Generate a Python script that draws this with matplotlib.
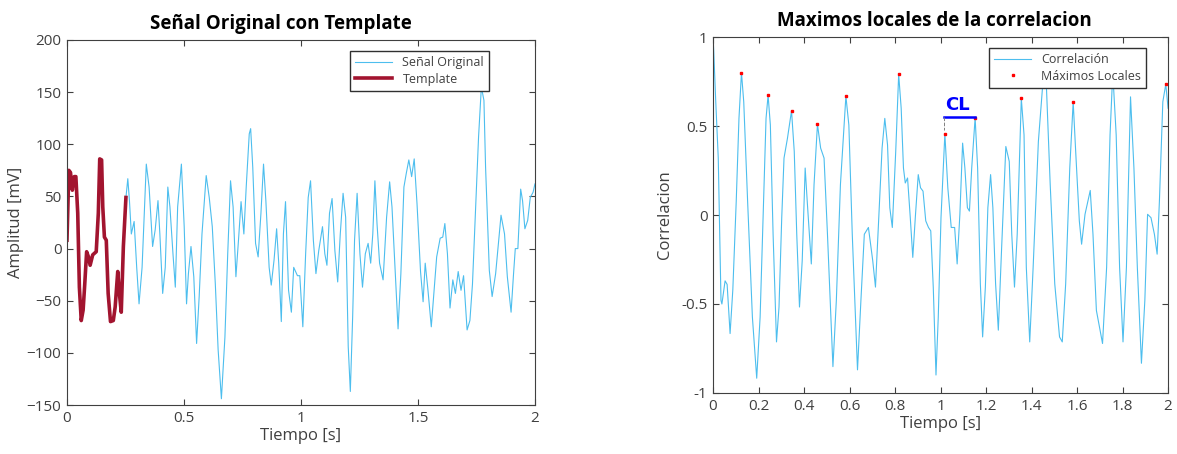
import matplotlib.pyplot as plt

plt.rcParams['font.family'] = ['Open Sans', 'Noto Sans', 'DejaVu Sans']

# Original signal (time in s, amplitude in mV); the template is its first segment
signal_t = [0.000, 0.008, 0.015, 0.023, 0.031, 0.038, 0.046, 0.053, 0.061, 0.069,
            0.076, 0.084, 0.092, 0.099, 0.110, 0.125, 0.134, 0.140, 0.148, 0.153,
            0.160, 0.168, 0.176, 0.186, 0.198, 0.206, 0.217, 0.224, 0.232, 0.241,
            0.252,
            0.260, 0.267, 0.275, 0.287, 0.298, 0.308, 0.321, 0.339, 0.351, 0.366,
            0.377, 0.389, 0.397, 0.409, 0.420, 0.431, 0.440, 0.453, 0.463, 0.473,
            0.489, 0.501, 0.511, 0.519, 0.530, 0.542, 0.554, 0.565, 0.577, 0.595,
            0.608, 0.621, 0.634, 0.646, 0.660, 0.675, 0.687, 0.699, 0.710, 0.722,
            0.733, 0.744, 0.756, 0.766, 0.779, 0.785, 0.794, 0.806, 0.817, 0.829,
            0.840, 0.850, 0.864, 0.873, 0.885, 0.896, 0.905, 0.916, 0.925, 0.934,
            0.947, 0.959, 0.969, 0.985, 0.995, 1.008, 1.020, 1.031, 1.041, 1.053,
            1.064, 1.076, 1.092, 1.102, 1.111, 1.122, 1.133, 1.145, 1.157, 1.168,
            1.180, 1.191, 1.202, 1.211, 1.221, 1.229, 1.240, 1.252, 1.263, 1.275,
            1.287, 1.298, 1.307, 1.316, 1.325, 1.336, 1.351, 1.366, 1.379, 1.389,
            1.402, 1.415, 1.427, 1.440, 1.450, 1.461, 1.473, 1.484, 1.496, 1.511,
            1.522, 1.531, 1.542, 1.557, 1.569, 1.580, 1.595, 1.606, 1.615, 1.626,
            1.637, 1.649, 1.660, 1.672, 1.684, 1.695, 1.710, 1.722, 1.733, 1.748,
            1.759, 1.771, 1.782, 1.789, 1.805, 1.817, 1.832, 1.855, 1.870, 1.882,
            1.898, 1.908, 1.916, 1.927, 1.939, 1.947, 1.957, 1.969, 1.980, 1.992,
            2.000]
signal_v = [8, 75, 73, 56, 69, 69, 34, -37, -69, -59,
            -34, -3, -8, -16, -6, -3, 34, 86, 85, 40,
            11, 8, -43, -70, -69, -56, -22, -43, -61, 2,
            49,
            67, 46, 14, 26, -18, -53, -18, 81, 59, 2,
            18, 46, 14, -43, -18, 59, 40, -5, -37, 40,
            81, 21, -53, -24, 2, -27, -91, -46, 14, 70,
            49, 21, -34, -97, -144, -85, -5, 65, 40, -27,
            8, 45, 14, 59, 110, 115, 78, 5, -8, 34,
            81, 46, -18, -35, -11, 19, -14, -70, 14, 45,
            -40, -61, -18, -26, -26, -75, -5, 49, 65, 8,
            -24, -2, 21, -5, -16, 34, 48, -2, -32, 14,
            53, 30, -94, -137, -65, 8, 53, -5, -37, -5,
            5, -14, 14, 65, 24, -14, -30, 30, 64, 40,
            -18, -77, -24, 59, 72, 85, 69, 86, 43, -22,
            -51, -14, -38, -75, -40, -8, 10, 11, 24, -5,
            -57, -30, -43, -22, -40, -26, -78, -69, -34, 46,
            107, 155, 142, 78, -21, -46, -24, 32, 14, -27,
            -61, -26, 0, 0, 57, 46, 19, 27, 49, 54,
            62]
template_len = 31

# Correlation between signal and template
corr_t = [0.000, 0.003, 0.012, 0.023, 0.035, 0.039, 0.053, 0.062, 0.075, 0.087,
          0.102, 0.114, 0.125, 0.135, 0.152, 0.173, 0.192, 0.207, 0.222, 0.233,
          0.242, 0.252, 0.264, 0.279, 0.290, 0.302, 0.312, 0.327, 0.345, 0.357,
          0.368, 0.380, 0.392, 0.405, 0.414, 0.432, 0.444, 0.459, 0.473, 0.488,
          0.503, 0.527, 0.542, 0.560, 0.584, 0.597, 0.612, 0.635, 0.650, 0.665,
          0.683, 0.702, 0.714, 0.732, 0.743, 0.755, 0.767, 0.777, 0.788, 0.803,
          0.816, 0.827, 0.837, 0.845, 0.855, 0.867, 0.878, 0.890, 0.902, 0.912,
          0.923, 0.935, 0.947, 0.957, 0.968, 0.980, 0.990, 1.002, 1.019, 1.032,
          1.047, 1.062, 1.073, 1.085, 1.097, 1.107, 1.118, 1.127, 1.137, 1.152,
          1.163, 1.175, 1.185, 1.197, 1.208, 1.220, 1.230, 1.242, 1.254, 1.268,
          1.287, 1.302, 1.313, 1.325, 1.337, 1.355, 1.367, 1.377, 1.392, 1.407,
          1.430, 1.452, 1.463, 1.482, 1.502, 1.523, 1.535, 1.550, 1.568, 1.583,
          1.594, 1.610, 1.620, 1.635, 1.658, 1.670, 1.685, 1.712, 1.730, 1.745,
          1.757, 1.772, 1.787, 1.802, 1.817, 1.835, 1.850, 1.865, 1.883, 1.898,
          1.910, 1.925, 1.940, 1.952, 1.962, 1.977, 1.990, 2.000]
corr_v = [1.000, 0.925, 0.636, 0.320, -0.480, -0.500, -0.370, -0.390, -0.666, -0.420,
          0.078, 0.543, 0.800, 0.636, 0.078, -0.573, -0.917, -0.573, 0.078, 0.543,
          0.673, 0.506, -0.108, -0.713, -0.517, -0.015, 0.320, 0.430, 0.586, 0.357,
          -0.108, -0.517, -0.257, 0.264, 0.078, -0.275, 0.171, 0.510, 0.376, 0.320,
          -0.108, -0.852, -0.480, 0.171, 0.668, 0.506, -0.108, -0.870, -0.480, -0.108,
          -0.070, -0.257, -0.405, 0.078, 0.376, 0.543, 0.394, 0.041, -0.070, 0.357,
          0.790, 0.600, 0.264, 0.180, 0.208, -0.015, -0.238, 0.004, 0.227, 0.153,
          0.134, -0.033, -0.070, -0.089, -0.405, -0.899, -0.573, -0.015, 0.456, 0.153,
          -0.070, -0.070, -0.275, 0.004, 0.404, 0.264, 0.041, 0.022, 0.264, 0.547,
          0.264, -0.387, -0.685, -0.405, 0.041, 0.227, 0.041, -0.387, -0.647, -0.200,
          0.385, 0.301, -0.108, -0.405, -0.108, 0.655, 0.450, -0.294, -0.713, -0.294,
          0.413, 0.780, 0.800, 0.171, -0.387, -0.685, -0.713, -0.387, 0.264, 0.636,
          0.357, -0.033, -0.164, 0.004, 0.138, -0.108, -0.536, -0.722, -0.294, 0.450,
          0.800, 0.450, -0.294, -0.713, -0.294, 0.664, 0.264, -0.294, -0.833, -0.480,
          0.004, -0.015, -0.108, -0.220, 0.078, 0.636, 0.735, 0.600]

# Local maxima marked on the correlation
max_t = [0.125, 0.242, 0.345, 0.459, 0.584, 0.816, 1.019, 1.152, 1.355, 1.583, 1.990]
max_v = [0.800, 0.673, 0.586, 0.510, 0.668, 0.790, 0.456, 0.547, 0.655, 0.636, 0.735]

# CL bracket between two consecutive maxima
cl_t = [1.014, 1.152]
cl_level = 0.553

blue = '#4DBEEE'
dark_red = '#A2142F'
axis_grey = '#404040'

fig = plt.figure(figsize=(11.77, 4.54), dpi=100)
ax1 = fig.add_axes([0.0569, 0.1079, 0.3976, 0.804])
ax2 = fig.add_axes([0.6058, 0.1344, 0.3866, 0.784])

def style_axes(ax):
    ax.tick_params(direction='in', top=True, right=True, length=4,
                   width=0.8, colors=axis_grey, labelsize=11, pad=4)
    for s in ax.spines.values():
        s.set_color(axis_grey)
        s.set_linewidth(0.8)

# left: signal with template
ax1.plot(signal_t, signal_v, color=blue, lw=0.8, label='Señal Original')
ax1.plot(signal_t[:template_len], signal_v[:template_len], color=dark_red, lw=2.6,
         label='Template')
ax1.set_xlim(0, 2)
ax1.set_ylim(-150, 200)
ax1.set_xticks([0, 0.5, 1, 1.5, 2])
ax1.set_xticklabels(['0', '0.5', '1', '1.5', '2'])
ax1.set_yticks(range(-150, 201, 50))
style_axes(ax1)
ax1.set_xlabel('Tiempo [s]', fontsize=12, color=axis_grey, labelpad=2)
ax1.set_ylabel('Amplitud [mV]', fontsize=12, color=axis_grey, labelpad=2)
ax1.set_title('Señal Original con Template', fontsize=13.5, fontweight='bold',
              x=0.457, pad=8)
leg1 = ax1.legend(loc='upper right', bbox_to_anchor=(0.902, 0.970), fontsize=9,
                  fancybox=False, framealpha=1, edgecolor='#303030',
                  borderaxespad=0, handlelength=3.0, borderpad=0.4,
                  labelspacing=0.3)
leg1.get_frame().set_linewidth(1.0)
for t in leg1.get_texts():
    t.set_color(axis_grey)

# right: correlation and its local maxima
ax2.plot(corr_t, corr_v, color=blue, lw=0.8, label='Correlación')
ax2.plot(max_t, max_v, 's', color='red', ms=2, mec='red', label='Máximos Locales')
ax2.plot(cl_t, [cl_level, cl_level], color='blue', lw=1.8)
ax2.plot([cl_t[0], cl_t[0]], [cl_level, 0.48], color='grey', lw=0.7, ls='--')
ax2.text(sum(cl_t) / 2 - 0.008, cl_level + 0.015, 'CL', color='blue', fontsize=13,
         fontweight='bold', ha='center', va='bottom', family='DejaVu Sans')
ax2.set_xlim(0, 2)
ax2.set_ylim(-1, 1)
ax2.set_xticks([i * 0.2 for i in range(11)])
ax2.set_xticklabels(['0', '0.2', '0.4', '0.6', '0.8', '1', '1.2', '1.4', '1.6',
                     '1.8', '2'])
ax2.set_yticks([-1, -0.5, 0, 0.5, 1])
ax2.set_yticklabels(['-1', '-0.5', '0', '0.5', '1'])
style_axes(ax2)
ax2.set_xlabel('Tiempo [s]', fontsize=12, color=axis_grey, labelpad=2)
ax2.set_ylabel('Correlacion', fontsize=12, color=axis_grey, labelpad=6)
ax2.set_title('Maximos locales de la correlacion', fontsize=13.5, fontweight='bold',
              x=0.487, pad=8)
leg2 = ax2.legend(loc='upper right', bbox_to_anchor=(0.952, 0.969), fontsize=9,
                  fancybox=False, framealpha=1, edgecolor='#303030',
                  borderaxespad=0, handlelength=3.0, borderpad=0.4,
                  labelspacing=0.3, numpoints=1)
leg2.get_frame().set_linewidth(1.0)
for t in leg2.get_texts():
    t.set_color(axis_grey)

fig.savefig('out.png', dpi=100)
